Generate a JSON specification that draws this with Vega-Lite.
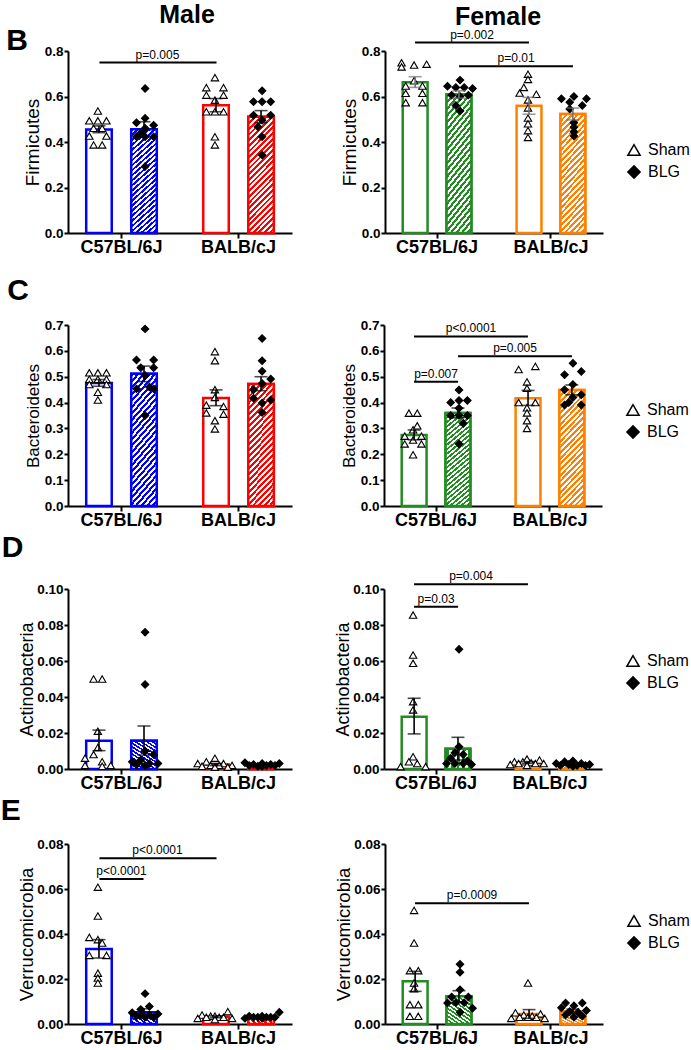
{
"$schema":"https://vega.github.io/schema/vega-lite/v6.json",
"padding":{"left":0,"top":3,"right":0,"bottom":0},
"params":[{"name":"gS","value":{"gradient":"linear","x1":0,"y1":0,"x2":0.258,"y2":1.164,"stops":[
{"offset":0,"color":"rgba(255,255,255,0)"},{"offset":0.02,"color":"rgba(255,255,255,0)"},{"offset":0.02,"color":"#fff"},{"offset":0.04,"color":"#fff"},
{"offset":0.04,"color":"rgba(255,255,255,0)"},{"offset":0.06,"color":"rgba(255,255,255,0)"},{"offset":0.06,"color":"#fff"},{"offset":0.08,"color":"#fff"},
{"offset":0.08,"color":"rgba(255,255,255,0)"},{"offset":0.1,"color":"rgba(255,255,255,0)"},{"offset":0.1,"color":"#fff"},{"offset":0.12,"color":"#fff"},
{"offset":0.12,"color":"rgba(255,255,255,0)"},{"offset":0.14,"color":"rgba(255,255,255,0)"},{"offset":0.14,"color":"#fff"},{"offset":0.16,"color":"#fff"},
{"offset":0.16,"color":"rgba(255,255,255,0)"},{"offset":0.18,"color":"rgba(255,255,255,0)"},{"offset":0.18,"color":"#fff"},{"offset":0.2,"color":"#fff"},
{"offset":0.2,"color":"rgba(255,255,255,0)"},{"offset":0.22,"color":"rgba(255,255,255,0)"},{"offset":0.22,"color":"#fff"},{"offset":0.24,"color":"#fff"},
{"offset":0.24,"color":"rgba(255,255,255,0)"},{"offset":0.26,"color":"rgba(255,255,255,0)"},{"offset":0.26,"color":"#fff"},{"offset":0.28,"color":"#fff"},
{"offset":0.28,"color":"rgba(255,255,255,0)"},{"offset":0.3,"color":"rgba(255,255,255,0)"},{"offset":0.3,"color":"#fff"},{"offset":0.32,"color":"#fff"},
{"offset":0.32,"color":"rgba(255,255,255,0)"},{"offset":0.34,"color":"rgba(255,255,255,0)"},{"offset":0.34,"color":"#fff"},{"offset":0.36,"color":"#fff"},
{"offset":0.36,"color":"rgba(255,255,255,0)"},{"offset":0.38,"color":"rgba(255,255,255,0)"},{"offset":0.38,"color":"#fff"},{"offset":0.4,"color":"#fff"},
{"offset":0.4,"color":"rgba(255,255,255,0)"},{"offset":0.42,"color":"rgba(255,255,255,0)"},{"offset":0.42,"color":"#fff"},{"offset":0.44,"color":"#fff"},
{"offset":0.44,"color":"rgba(255,255,255,0)"},{"offset":0.46,"color":"rgba(255,255,255,0)"},{"offset":0.46,"color":"#fff"},{"offset":0.48,"color":"#fff"},
{"offset":0.48,"color":"rgba(255,255,255,0)"},{"offset":0.5,"color":"rgba(255,255,255,0)"},{"offset":0.5,"color":"#fff"},{"offset":0.52,"color":"#fff"},
{"offset":0.52,"color":"rgba(255,255,255,0)"},{"offset":0.54,"color":"rgba(255,255,255,0)"},{"offset":0.54,"color":"#fff"},{"offset":0.56,"color":"#fff"},
{"offset":0.56,"color":"rgba(255,255,255,0)"},{"offset":0.58,"color":"rgba(255,255,255,0)"},{"offset":0.58,"color":"#fff"},{"offset":0.6,"color":"#fff"},
{"offset":0.6,"color":"rgba(255,255,255,0)"},{"offset":0.62,"color":"rgba(255,255,255,0)"},{"offset":0.62,"color":"#fff"},{"offset":0.64,"color":"#fff"},
{"offset":0.64,"color":"rgba(255,255,255,0)"},{"offset":0.66,"color":"rgba(255,255,255,0)"},{"offset":0.66,"color":"#fff"},{"offset":0.68,"color":"#fff"},
{"offset":0.68,"color":"rgba(255,255,255,0)"},{"offset":0.7,"color":"rgba(255,255,255,0)"},{"offset":0.7,"color":"#fff"},{"offset":0.72,"color":"#fff"},
{"offset":0.72,"color":"rgba(255,255,255,0)"},{"offset":0.74,"color":"rgba(255,255,255,0)"},{"offset":0.74,"color":"#fff"},{"offset":0.76,"color":"#fff"},
{"offset":0.76,"color":"rgba(255,255,255,0)"},{"offset":0.78,"color":"rgba(255,255,255,0)"},{"offset":0.78,"color":"#fff"},{"offset":0.8,"color":"#fff"},
{"offset":0.8,"color":"rgba(255,255,255,0)"},{"offset":0.82,"color":"rgba(255,255,255,0)"},{"offset":0.82,"color":"#fff"},{"offset":0.84,"color":"#fff"},
{"offset":0.84,"color":"rgba(255,255,255,0)"},{"offset":0.86,"color":"rgba(255,255,255,0)"},{"offset":0.86,"color":"#fff"},{"offset":0.88,"color":"#fff"},
{"offset":0.88,"color":"rgba(255,255,255,0)"},{"offset":0.9,"color":"rgba(255,255,255,0)"},{"offset":0.9,"color":"#fff"},{"offset":0.92,"color":"#fff"},
{"offset":0.92,"color":"rgba(255,255,255,0)"},{"offset":0.94,"color":"rgba(255,255,255,0)"},{"offset":0.94,"color":"#fff"},{"offset":0.96,"color":"#fff"},
{"offset":0.96,"color":"rgba(255,255,255,0)"},{"offset":0.98,"color":"rgba(255,255,255,0)"},{"offset":0.98,"color":"#fff"},{"offset":1,"color":"#fff"}]}}],
"config":{
 "font":"Liberation Sans",
 "view":{"stroke":null},
 "axis":{"domainColor":"black","domainWidth":2,"tickColor":"black","tickWidth":2,"labelColor":"black","labelFont":"Liberation Sans","labelFontWeight":"bold","titleFont":"Liberation Sans","titleFontWeight":"normal","titleColor":"black","grid":false,"labelOverlap":false},
 "axisY":{"labelFontSize":13.5,"labelPadding":1,"tickSize":4,"titleFontSize":18},
 "axisX":{"labelFontSize":18,"labelAngle":0,"labelPadding":0,"tickSize":5},
 "title":{"font":"Liberation Sans","fontWeight":"bold","color":"black"},
 "legend":{"labelFont":"Liberation Sans","labelFontSize":16,"labelColor":"black"},
 "text":{"font":"Liberation Sans"}
},
"datasets":{
"bars":[
{"p":"BM","s":"C57BL/6J","t":"Sham","m":0.455,"lo":0.441,"hi":0.471},
{"p":"BM","s":"C57BL/6J","t":"BLG","m":0.456,"lo":0.422,"hi":0.489},
{"p":"BM","s":"BALB/cJ","t":"Sham","m":0.562,"lo":0.533,"hi":0.591},
{"p":"BM","s":"BALB/cJ","t":"BLG","m":0.511,"lo":0.485,"hi":0.538},
{"p":"BF","s":"C57BL/6J","t":"Sham","m":0.663,"lo":0.64,"hi":0.687},
{"p":"BF","s":"C57BL/6J","t":"BLG","m":0.609,"lo":0.593,"hi":0.625},
{"p":"BF","s":"BALB/cJ","t":"Sham","m":0.559,"lo":0.522,"hi":0.596},
{"p":"BF","s":"BALB/cJ","t":"BLG","m":0.523,"lo":0.497,"hi":0.549},
{"p":"CM","s":"C57BL/6J","t":"Sham","m":0.476,"lo":0.463,"hi":0.489},
{"p":"CM","s":"C57BL/6J","t":"BLG","m":0.511,"lo":0.481,"hi":0.541},
{"p":"CM","s":"BALB/cJ","t":"Sham","m":0.418,"lo":0.388,"hi":0.449},
{"p":"CM","s":"BALB/cJ","t":"BLG","m":0.472,"lo":0.446,"hi":0.5},
{"p":"CF","s":"C57BL/6J","t":"Sham","m":0.275,"lo":0.256,"hi":0.294},
{"p":"CF","s":"C57BL/6J","t":"BLG","m":0.36,"lo":0.341,"hi":0.379},
{"p":"CF","s":"BALB/cJ","t":"Sham","m":0.417,"lo":0.389,"hi":0.447},
{"p":"CF","s":"BALB/cJ","t":"BLG","m":0.449,"lo":0.43,"hi":0.468},
{"p":"DM","s":"C57BL/6J","t":"Sham","m":0.0157,"lo":0.0102,"hi":0.0216},
{"p":"DM","s":"C57BL/6J","t":"BLG","m":0.0157,"lo":0.0077,"hi":0.0239},
{"p":"DM","s":"BALB/cJ","t":"Sham","m":0.0025,"lo":0.0019,"hi":0.0031},
{"p":"DM","s":"BALB/cJ","t":"BLG","m":0.0023,"lo":0.0019,"hi":0.0027},
{"p":"DF","s":"C57BL/6J","t":"Sham","m":0.029,"lo":0.0195,"hi":0.0393},
{"p":"DF","s":"C57BL/6J","t":"BLG","m":0.0113,"lo":0.005,"hi":0.0176},
{"p":"DF","s":"BALB/cJ","t":"Sham","m":0.0036,"lo":0.0031,"hi":0.0041},
{"p":"DF","s":"BALB/cJ","t":"BLG","m":0.0027,"lo":0.0023,"hi":0.0031},
{"p":"EM","s":"C57BL/6J","t":"Sham","m":0.0333,"lo":0.0293,"hi":0.0375},
{"p":"EM","s":"C57BL/6J","t":"BLG","m":0.0052,"lo":0.0037,"hi":0.0068},
{"p":"EM","s":"BALB/cJ","t":"Sham","m":0.0032,"lo":0.0028,"hi":0.0036},
{"p":"EM","s":"BALB/cJ","t":"BLG","m":0.0032,"lo":0.0029,"hi":0.0035},
{"p":"EF","s":"C57BL/6J","t":"Sham","m":0.019,"lo":0.0145,"hi":0.0234},
{"p":"EF","s":"C57BL/6J","t":"BLG","m":0.0123,"lo":0.0098,"hi":0.0148},
{"p":"EF","s":"BALB/cJ","t":"Sham","m":0.0045,"lo":0.0025,"hi":0.0064},
{"p":"EF","s":"BALB/cJ","t":"BLG","m":0.0056,"lo":0.0046,"hi":0.0066}
],
"sig":[
{"p":"BM","ty":"SS","s1":"C57BL/6J","s2":"BALB/cJ","y":0.749,"lab":"p=0.005"},
{"p":"BF","ty":"SS","s1":"C57BL/6J","s2":"BALB/cJ","y":0.837,"lab":"p=0.002"},
{"p":"BF","ty":"BB","s1":"C57BL/6J","s2":"BALB/cJ","y":0.733,"lab":"p=0.01"},
{"p":"CF","ty":"SS","s1":"C57BL/6J","s2":"BALB/cJ","y":0.656,"lab":"p<0.0001"},
{"p":"CF","ty":"BB","s1":"C57BL/6J","s2":"BALB/cJ","y":0.579,"lab":"p=0.005"},
{"p":"CF","ty":"W","s1":"C57BL/6J","s2":"C57BL/6J","y":0.481,"lab":"p=0.007"},
{"p":"DF","ty":"SS","s1":"C57BL/6J","s2":"BALB/cJ","y":0.1026,"lab":"p=0.004"},
{"p":"DF","ty":"W","s1":"C57BL/6J","s2":"C57BL/6J","y":0.0902,"lab":"p=0.03"},
{"p":"EM","ty":"SS","s1":"C57BL/6J","s2":"BALB/cJ","y":0.0737,"lab":"p<0.0001"},
{"p":"EM","ty":"W","s1":"C57BL/6J","s2":"C57BL/6J","y":0.0644,"lab":"p<0.0001"},
{"p":"EF","ty":"SS","s1":"C57BL/6J","s2":"BALB/cJ","y":0.0537,"lab":"p=0.0009"}
],
"pts":[
{"p":"BM","s":"C57BL/6J","t":"Sham","k":"S0","v":0.536},{"p":"BM","s":"C57BL/6J","t":"Sham","k":"S-2","v":0.493},{"p":"BM","s":"C57BL/6J","t":"Sham","k":"S0","v":0.493},{"p":"BM","s":"C57BL/6J","t":"Sham","k":"S2","v":0.493},{"p":"BM","s":"C57BL/6J","t":"Sham","k":"S-1","v":0.46},{"p":"BM","s":"C57BL/6J","t":"Sham","k":"S1","v":0.46},{"p":"BM","s":"C57BL/6J","t":"Sham","k":"S-2","v":0.426},{"p":"BM","s":"C57BL/6J","t":"Sham","k":"S2","v":0.426},{"p":"BM","s":"C57BL/6J","t":"Sham","k":"S-1","v":0.387},{"p":"BM","s":"C57BL/6J","t":"Sham","k":"S1","v":0.387},
{"p":"BM","s":"C57BL/6J","t":"BLG","k":"B0","v":0.635},{"p":"BM","s":"C57BL/6J","t":"BLG","k":"B0","v":0.504},{"p":"BM","s":"C57BL/6J","t":"BLG","k":"B-2","v":0.485},{"p":"BM","s":"C57BL/6J","t":"BLG","k":"B2","v":0.474},{"p":"BM","s":"C57BL/6J","t":"BLG","k":"B0","v":0.46},{"p":"BM","s":"C57BL/6J","t":"BLG","k":"B-1","v":0.44},{"p":"BM","s":"C57BL/6J","t":"BLG","k":"B-2","v":0.423},{"p":"BM","s":"C57BL/6J","t":"BLG","k":"B0","v":0.423},{"p":"BM","s":"C57BL/6J","t":"BLG","k":"B2","v":0.423},{"p":"BM","s":"C57BL/6J","t":"BLG","k":"B0","v":0.292},
{"p":"BM","s":"BALB/cJ","t":"Sham","k":"S0","v":0.683},{"p":"BM","s":"BALB/cJ","t":"Sham","k":"S-2","v":0.639},{"p":"BM","s":"BALB/cJ","t":"Sham","k":"S2","v":0.639},{"p":"BM","s":"BALB/cJ","t":"Sham","k":"S-2","v":0.606},{"p":"BM","s":"BALB/cJ","t":"Sham","k":"S2","v":0.606},{"p":"BM","s":"BALB/cJ","t":"Sham","k":"S0","v":0.584},{"p":"BM","s":"BALB/cJ","t":"Sham","k":"S-2","v":0.533},{"p":"BM","s":"BALB/cJ","t":"Sham","k":"S0","v":0.533},{"p":"BM","s":"BALB/cJ","t":"Sham","k":"S2","v":0.533},{"p":"BM","s":"BALB/cJ","t":"Sham","k":"S0","v":0.423},{"p":"BM","s":"BALB/cJ","t":"Sham","k":"S0","v":0.387},
{"p":"BM","s":"BALB/cJ","t":"BLG","k":"B0","v":0.625},{"p":"BM","s":"BALB/cJ","t":"BLG","k":"B-2","v":0.577},{"p":"BM","s":"BALB/cJ","t":"BLG","k":"B0","v":0.577},{"p":"BM","s":"BALB/cJ","t":"BLG","k":"B2","v":0.577},{"p":"BM","s":"BALB/cJ","t":"BLG","k":"B-2","v":0.518},{"p":"BM","s":"BALB/cJ","t":"BLG","k":"B2","v":0.518},{"p":"BM","s":"BALB/cJ","t":"BLG","k":"B0","v":0.496},{"p":"BM","s":"BALB/cJ","t":"BLG","k":"B-1","v":0.467},{"p":"BM","s":"BALB/cJ","t":"BLG","k":"B0","v":0.423},{"p":"BM","s":"BALB/cJ","t":"BLG","k":"B0","v":0.343},
{"p":"BF","s":"C57BL/6J","t":"Sham","k":"S-3","v":0.748},{"p":"BF","s":"C57BL/6J","t":"Sham","k":"S-3","v":0.73},{"p":"BF","s":"C57BL/6J","t":"Sham","k":"S0","v":0.738},{"p":"BF","s":"C57BL/6J","t":"Sham","k":"S3","v":0.742},{"p":"BF","s":"C57BL/6J","t":"Sham","k":"S0","v":0.669},{"p":"BF","s":"C57BL/6J","t":"Sham","k":"S-2","v":0.646},{"p":"BF","s":"C57BL/6J","t":"Sham","k":"S2","v":0.646},{"p":"BF","s":"C57BL/6J","t":"Sham","k":"S-2","v":0.614},{"p":"BF","s":"C57BL/6J","t":"Sham","k":"S2","v":0.614},{"p":"BF","s":"C57BL/6J","t":"Sham","k":"S-2","v":0.573},{"p":"BF","s":"C57BL/6J","t":"Sham","k":"S2","v":0.573},
{"p":"BF","s":"C57BL/6J","t":"BLG","k":"B0","v":0.672},{"p":"BF","s":"C57BL/6J","t":"BLG","k":"B-3","v":0.645},{"p":"BF","s":"C57BL/6J","t":"BLG","k":"B-1","v":0.64},{"p":"BF","s":"C57BL/6J","t":"BLG","k":"B1","v":0.64},{"p":"BF","s":"C57BL/6J","t":"BLG","k":"B3","v":0.635},{"p":"BF","s":"C57BL/6J","t":"BLG","k":"B0","v":0.6},{"p":"BF","s":"C57BL/6J","t":"BLG","k":"B-2","v":0.606},{"p":"BF","s":"C57BL/6J","t":"BLG","k":"B2","v":0.606},{"p":"BF","s":"C57BL/6J","t":"BLG","k":"B-1","v":0.56},{"p":"BF","s":"C57BL/6J","t":"BLG","k":"B0","v":0.536},
{"p":"BF","s":"BALB/cJ","t":"Sham","k":"S0","v":0.698},{"p":"BF","s":"BALB/cJ","t":"Sham","k":"S0","v":0.675},{"p":"BF","s":"BALB/cJ","t":"Sham","k":"S-1","v":0.64},{"p":"BF","s":"BALB/cJ","t":"Sham","k":"S-2","v":0.615},{"p":"BF","s":"BALB/cJ","t":"Sham","k":"S2","v":0.61},{"p":"BF","s":"BALB/cJ","t":"Sham","k":"S0","v":0.585},{"p":"BF","s":"BALB/cJ","t":"Sham","k":"S0","v":0.55},{"p":"BF","s":"BALB/cJ","t":"Sham","k":"S0","v":0.505},{"p":"BF","s":"BALB/cJ","t":"Sham","k":"S0","v":0.48},{"p":"BF","s":"BALB/cJ","t":"Sham","k":"S0","v":0.45},{"p":"BF","s":"BALB/cJ","t":"Sham","k":"S0","v":0.42},
{"p":"BF","s":"BALB/cJ","t":"BLG","k":"B0","v":0.6},{"p":"BF","s":"BALB/cJ","t":"BLG","k":"B-3","v":0.59},{"p":"BF","s":"BALB/cJ","t":"BLG","k":"B3","v":0.59},{"p":"BF","s":"BALB/cJ","t":"BLG","k":"B-1","v":0.575},{"p":"BF","s":"BALB/cJ","t":"BLG","k":"B2","v":0.56},{"p":"BF","s":"BALB/cJ","t":"BLG","k":"B-1","v":0.545},{"p":"BF","s":"BALB/cJ","t":"BLG","k":"B0","v":0.485},{"p":"BF","s":"BALB/cJ","t":"BLG","k":"B0","v":0.465},{"p":"BF","s":"BALB/cJ","t":"BLG","k":"B0","v":0.445},{"p":"BF","s":"BALB/cJ","t":"BLG","k":"B0","v":0.426},
{"p":"CM","s":"C57BL/6J","t":"Sham","k":"S-2","v":0.515},{"p":"CM","s":"C57BL/6J","t":"Sham","k":"S0","v":0.515},{"p":"CM","s":"C57BL/6J","t":"Sham","k":"S2","v":0.515},{"p":"CM","s":"C57BL/6J","t":"Sham","k":"S-2","v":0.49},{"p":"CM","s":"C57BL/6J","t":"Sham","k":"S0","v":0.49},{"p":"CM","s":"C57BL/6J","t":"Sham","k":"S2","v":0.49},{"p":"CM","s":"C57BL/6J","t":"Sham","k":"S-2","v":0.47},{"p":"CM","s":"C57BL/6J","t":"Sham","k":"S2","v":0.47},{"p":"CM","s":"C57BL/6J","t":"Sham","k":"S0","v":0.44},{"p":"CM","s":"C57BL/6J","t":"Sham","k":"S0","v":0.41},
{"p":"CM","s":"C57BL/6J","t":"BLG","k":"B0","v":0.685},{"p":"CM","s":"C57BL/6J","t":"BLG","k":"B-2","v":0.565},{"p":"CM","s":"C57BL/6J","t":"BLG","k":"B2","v":0.565},{"p":"CM","s":"C57BL/6J","t":"BLG","k":"B-1","v":0.535},{"p":"CM","s":"C57BL/6J","t":"BLG","k":"B2","v":0.535},{"p":"CM","s":"C57BL/6J","t":"BLG","k":"B0","v":0.505},{"p":"CM","s":"C57BL/6J","t":"BLG","k":"B1","v":0.46},{"p":"CM","s":"C57BL/6J","t":"BLG","k":"B-2","v":0.453},{"p":"CM","s":"C57BL/6J","t":"BLG","k":"B2","v":0.453},{"p":"CM","s":"C57BL/6J","t":"BLG","k":"B0","v":0.35},
{"p":"CM","s":"BALB/cJ","t":"Sham","k":"S0","v":0.597},{"p":"CM","s":"BALB/cJ","t":"Sham","k":"S0","v":0.562},{"p":"CM","s":"BALB/cJ","t":"Sham","k":"S0","v":0.45},{"p":"CM","s":"BALB/cJ","t":"Sham","k":"S0","v":0.42},{"p":"CM","s":"BALB/cJ","t":"Sham","k":"S-2","v":0.39},{"p":"CM","s":"BALB/cJ","t":"Sham","k":"S2","v":0.385},{"p":"CM","s":"BALB/cJ","t":"Sham","k":"S-2","v":0.36},{"p":"CM","s":"BALB/cJ","t":"Sham","k":"S2","v":0.355},{"p":"CM","s":"BALB/cJ","t":"Sham","k":"S0","v":0.33},{"p":"CM","s":"BALB/cJ","t":"Sham","k":"S0","v":0.298},
{"p":"CM","s":"BALB/cJ","t":"BLG","k":"B0","v":0.648},{"p":"CM","s":"BALB/cJ","t":"BLG","k":"B0","v":0.562},{"p":"CM","s":"BALB/cJ","t":"BLG","k":"B0","v":0.521},{"p":"CM","s":"BALB/cJ","t":"BLG","k":"B2","v":0.491},{"p":"CM","s":"BALB/cJ","t":"BLG","k":"B0","v":0.474},{"p":"CM","s":"BALB/cJ","t":"BLG","k":"B-2","v":0.45},{"p":"CM","s":"BALB/cJ","t":"BLG","k":"B-2","v":0.417},{"p":"CM","s":"BALB/cJ","t":"BLG","k":"B2","v":0.41},{"p":"CM","s":"BALB/cJ","t":"BLG","k":"B0","v":0.398},{"p":"CM","s":"BALB/cJ","t":"BLG","k":"B0","v":0.362},
{"p":"CF","s":"C57BL/6J","t":"Sham","k":"S-1","v":0.359},{"p":"CF","s":"C57BL/6J","t":"Sham","k":"S1","v":0.359},{"p":"CF","s":"C57BL/6J","t":"Sham","k":"S0","v":0.295},{"p":"CF","s":"C57BL/6J","t":"Sham","k":"S-2","v":0.27},{"p":"CF","s":"C57BL/6J","t":"Sham","k":"S2","v":0.27},{"p":"CF","s":"C57BL/6J","t":"Sham","k":"S0","v":0.255},{"p":"CF","s":"C57BL/6J","t":"Sham","k":"S-2","v":0.24},{"p":"CF","s":"C57BL/6J","t":"Sham","k":"S2","v":0.24},{"p":"CF","s":"C57BL/6J","t":"Sham","k":"S0","v":0.198},{"p":"CF","s":"C57BL/6J","t":"Sham","k":"S1","v":0.31},
{"p":"CF","s":"C57BL/6J","t":"BLG","k":"B0","v":0.449},{"p":"CF","s":"C57BL/6J","t":"BLG","k":"B-2","v":0.4},{"p":"CF","s":"C57BL/6J","t":"BLG","k":"B0","v":0.408},{"p":"CF","s":"C57BL/6J","t":"BLG","k":"B2","v":0.408},{"p":"CF","s":"C57BL/6J","t":"BLG","k":"B0","v":0.378},{"p":"CF","s":"C57BL/6J","t":"BLG","k":"B-2","v":0.35},{"p":"CF","s":"C57BL/6J","t":"BLG","k":"B0","v":0.35},{"p":"CF","s":"C57BL/6J","t":"BLG","k":"B2","v":0.35},{"p":"CF","s":"C57BL/6J","t":"BLG","k":"B1","v":0.32},{"p":"CF","s":"C57BL/6J","t":"BLG","k":"B0","v":0.24},
{"p":"CF","s":"BALB/cJ","t":"Sham","k":"S2","v":0.54},{"p":"CF","s":"BALB/cJ","t":"Sham","k":"S-2","v":0.528},{"p":"CF","s":"BALB/cJ","t":"Sham","k":"S0","v":0.48},{"p":"CF","s":"BALB/cJ","t":"Sham","k":"S0","v":0.455},{"p":"CF","s":"BALB/cJ","t":"Sham","k":"S-2","v":0.4},{"p":"CF","s":"BALB/cJ","t":"Sham","k":"S2","v":0.4},{"p":"CF","s":"BALB/cJ","t":"Sham","k":"S0","v":0.38},{"p":"CF","s":"BALB/cJ","t":"Sham","k":"S0","v":0.36},{"p":"CF","s":"BALB/cJ","t":"Sham","k":"S0","v":0.33},{"p":"CF","s":"BALB/cJ","t":"Sham","k":"S0","v":0.3},
{"p":"CF","s":"BALB/cJ","t":"BLG","k":"B0","v":0.552},{"p":"CF","s":"BALB/cJ","t":"BLG","k":"B2","v":0.52},{"p":"CF","s":"BALB/cJ","t":"BLG","k":"B-2","v":0.508},{"p":"CF","s":"BALB/cJ","t":"BLG","k":"B0","v":0.47},{"p":"CF","s":"BALB/cJ","t":"BLG","k":"B-2","v":0.45},{"p":"CF","s":"BALB/cJ","t":"BLG","k":"B2","v":0.43},{"p":"CF","s":"BALB/cJ","t":"BLG","k":"B0","v":0.42},{"p":"CF","s":"BALB/cJ","t":"BLG","k":"B-1","v":0.4},{"p":"CF","s":"BALB/cJ","t":"BLG","k":"B-2","v":0.391},{"p":"CF","s":"BALB/cJ","t":"BLG","k":"B2","v":0.391},
{"p":"DM","s":"C57BL/6J","t":"Sham","k":"S-1","v":0.05},{"p":"DM","s":"C57BL/6J","t":"Sham","k":"S1","v":0.05},{"p":"DM","s":"C57BL/6J","t":"Sham","k":"S0","v":0.021},{"p":"DM","s":"C57BL/6J","t":"Sham","k":"S0","v":0.012},{"p":"DM","s":"C57BL/6J","t":"Sham","k":"S-1","v":0.008},{"p":"DM","s":"C57BL/6J","t":"Sham","k":"S-3","v":0.006},{"p":"DM","s":"C57BL/6J","t":"Sham","k":"S1","v":0.004},{"p":"DM","s":"C57BL/6J","t":"Sham","k":"S-3","v":0.002},{"p":"DM","s":"C57BL/6J","t":"Sham","k":"S1","v":0.0015},{"p":"DM","s":"C57BL/6J","t":"Sham","k":"S3","v":0.002},
{"p":"DM","s":"C57BL/6J","t":"BLG","k":"B0","v":0.076},{"p":"DM","s":"C57BL/6J","t":"BLG","k":"B0","v":0.047},{"p":"DM","s":"C57BL/6J","t":"BLG","k":"B0","v":0.01},{"p":"DM","s":"C57BL/6J","t":"BLG","k":"B2","v":0.008},{"p":"DM","s":"C57BL/6J","t":"BLG","k":"B-1","v":0.005},{"p":"DM","s":"C57BL/6J","t":"BLG","k":"B-3","v":0.004},{"p":"DM","s":"C57BL/6J","t":"BLG","k":"B-2","v":0.0025},{"p":"DM","s":"C57BL/6J","t":"BLG","k":"B1","v":0.003},{"p":"DM","s":"C57BL/6J","t":"BLG","k":"B3","v":0.003},{"p":"DM","s":"C57BL/6J","t":"BLG","k":"B0","v":0.002},
{"p":"DM","s":"BALB/cJ","t":"Sham","k":"S0","v":0.006},{"p":"DM","s":"BALB/cJ","t":"Sham","k":"S-2","v":0.004},{"p":"DM","s":"BALB/cJ","t":"Sham","k":"S-4","v":0.003},{"p":"DM","s":"BALB/cJ","t":"Sham","k":"S2","v":0.003},{"p":"DM","s":"BALB/cJ","t":"Sham","k":"S-1","v":0.002},{"p":"DM","s":"BALB/cJ","t":"Sham","k":"S1","v":0.002},{"p":"DM","s":"BALB/cJ","t":"Sham","k":"S4","v":0.002},{"p":"DM","s":"BALB/cJ","t":"Sham","k":"S-3","v":0.0015},{"p":"DM","s":"BALB/cJ","t":"Sham","k":"S3","v":0.001},{"p":"DM","s":"BALB/cJ","t":"Sham","k":"S0","v":0.001},
{"p":"DM","s":"BALB/cJ","t":"BLG","k":"B-4","v":0.0035},{"p":"DM","s":"BALB/cJ","t":"BLG","k":"B4","v":0.003},{"p":"DM","s":"BALB/cJ","t":"BLG","k":"B0","v":0.003},{"p":"DM","s":"BALB/cJ","t":"BLG","k":"B-2","v":0.0025},{"p":"DM","s":"BALB/cJ","t":"BLG","k":"B2","v":0.0025},{"p":"DM","s":"BALB/cJ","t":"BLG","k":"B-3","v":0.002},{"p":"DM","s":"BALB/cJ","t":"BLG","k":"B1","v":0.002},{"p":"DM","s":"BALB/cJ","t":"BLG","k":"B3","v":0.002},{"p":"DM","s":"BALB/cJ","t":"BLG","k":"B-1","v":0.0015},{"p":"DM","s":"BALB/cJ","t":"BLG","k":"B0","v":0.0015},
{"p":"DF","s":"C57BL/6J","t":"Sham","k":"S0","v":0.0855},{"p":"DF","s":"C57BL/6J","t":"Sham","k":"S0","v":0.0633},{"p":"DF","s":"C57BL/6J","t":"Sham","k":"S0","v":0.0587},{"p":"DF","s":"C57BL/6J","t":"Sham","k":"S0","v":0.0374},{"p":"DF","s":"C57BL/6J","t":"Sham","k":"S0","v":0.0328},{"p":"DF","s":"C57BL/6J","t":"Sham","k":"S0","v":0.0068},{"p":"DF","s":"C57BL/6J","t":"Sham","k":"S-1","v":0.004},{"p":"DF","s":"C57BL/6J","t":"Sham","k":"S1","v":0.003},{"p":"DF","s":"C57BL/6J","t":"Sham","k":"S-3","v":0.0013},{"p":"DF","s":"C57BL/6J","t":"Sham","k":"S3","v":0.0013},
{"p":"DF","s":"C57BL/6J","t":"BLG","k":"B0","v":0.0665},{"p":"DF","s":"C57BL/6J","t":"BLG","k":"B0","v":0.0124},{"p":"DF","s":"C57BL/6J","t":"BLG","k":"B-1","v":0.009},{"p":"DF","s":"C57BL/6J","t":"BLG","k":"B1","v":0.008},{"p":"DF","s":"C57BL/6J","t":"BLG","k":"B-2","v":0.006},{"p":"DF","s":"C57BL/6J","t":"BLG","k":"B2","v":0.0045},{"p":"DF","s":"C57BL/6J","t":"BLG","k":"B-3","v":0.003},{"p":"DF","s":"C57BL/6J","t":"BLG","k":"B-1","v":0.003},{"p":"DF","s":"C57BL/6J","t":"BLG","k":"B1","v":0.003},{"p":"DF","s":"C57BL/6J","t":"BLG","k":"B3","v":0.0025},
{"p":"DF","s":"BALB/cJ","t":"Sham","k":"S0","v":0.0055},{"p":"DF","s":"BALB/cJ","t":"Sham","k":"S3","v":0.005},{"p":"DF","s":"BALB/cJ","t":"Sham","k":"S-3","v":0.004},{"p":"DF","s":"BALB/cJ","t":"Sham","k":"S-1","v":0.004},{"p":"DF","s":"BALB/cJ","t":"Sham","k":"S1","v":0.0035},{"p":"DF","s":"BALB/cJ","t":"Sham","k":"S-2","v":0.003},{"p":"DF","s":"BALB/cJ","t":"Sham","k":"S2","v":0.003},{"p":"DF","s":"BALB/cJ","t":"Sham","k":"S4","v":0.003},{"p":"DF","s":"BALB/cJ","t":"Sham","k":"S-4","v":0.0025},{"p":"DF","s":"BALB/cJ","t":"Sham","k":"S0","v":0.002},
{"p":"DF","s":"BALB/cJ","t":"BLG","k":"B0","v":0.0045},{"p":"DF","s":"BALB/cJ","t":"BLG","k":"B-2","v":0.004},{"p":"DF","s":"BALB/cJ","t":"BLG","k":"B2","v":0.003},{"p":"DF","s":"BALB/cJ","t":"BLG","k":"B-4","v":0.003},{"p":"DF","s":"BALB/cJ","t":"BLG","k":"B4","v":0.0025},{"p":"DF","s":"BALB/cJ","t":"BLG","k":"B-1","v":0.0025},{"p":"DF","s":"BALB/cJ","t":"BLG","k":"B1","v":0.002},{"p":"DF","s":"BALB/cJ","t":"BLG","k":"B3","v":0.002},{"p":"DF","s":"BALB/cJ","t":"BLG","k":"B-3","v":0.002},{"p":"DF","s":"BALB/cJ","t":"BLG","k":"B0","v":0.0015},
{"p":"EM","s":"C57BL/6J","t":"Sham","k":"S0","v":0.0608},{"p":"EM","s":"C57BL/6J","t":"Sham","k":"S0","v":0.048},{"p":"EM","s":"C57BL/6J","t":"Sham","k":"S-2","v":0.0385},{"p":"EM","s":"C57BL/6J","t":"Sham","k":"S0","v":0.0375},{"p":"EM","s":"C57BL/6J","t":"Sham","k":"S1","v":0.036},{"p":"EM","s":"C57BL/6J","t":"Sham","k":"S-2","v":0.0305},{"p":"EM","s":"C57BL/6J","t":"Sham","k":"S2","v":0.0305},{"p":"EM","s":"C57BL/6J","t":"Sham","k":"S0","v":0.0226},{"p":"EM","s":"C57BL/6J","t":"Sham","k":"S0","v":0.0204},{"p":"EM","s":"C57BL/6J","t":"Sham","k":"S0","v":0.0182},
{"p":"EM","s":"C57BL/6J","t":"BLG","k":"B0","v":0.0135},{"p":"EM","s":"C57BL/6J","t":"BLG","k":"B1","v":0.0078},{"p":"EM","s":"C57BL/6J","t":"BLG","k":"B-1","v":0.0065},{"p":"EM","s":"C57BL/6J","t":"BLG","k":"B-3","v":0.005},{"p":"EM","s":"C57BL/6J","t":"BLG","k":"B3","v":0.0045},{"p":"EM","s":"C57BL/6J","t":"BLG","k":"B-1","v":0.004},{"p":"EM","s":"C57BL/6J","t":"BLG","k":"B1","v":0.004},{"p":"EM","s":"C57BL/6J","t":"BLG","k":"B-2","v":0.0035},{"p":"EM","s":"C57BL/6J","t":"BLG","k":"B2","v":0.003},{"p":"EM","s":"C57BL/6J","t":"BLG","k":"B0","v":0.003},
{"p":"EM","s":"BALB/cJ","t":"Sham","k":"S3","v":0.0055},{"p":"EM","s":"BALB/cJ","t":"Sham","k":"S-3","v":0.004},{"p":"EM","s":"BALB/cJ","t":"Sham","k":"S0","v":0.0035},{"p":"EM","s":"BALB/cJ","t":"Sham","k":"S-1","v":0.0035},{"p":"EM","s":"BALB/cJ","t":"Sham","k":"S1","v":0.003},{"p":"EM","s":"BALB/cJ","t":"Sham","k":"S2","v":0.003},{"p":"EM","s":"BALB/cJ","t":"Sham","k":"S-2","v":0.003},{"p":"EM","s":"BALB/cJ","t":"Sham","k":"S4","v":0.0025},{"p":"EM","s":"BALB/cJ","t":"Sham","k":"S-4","v":0.0025},{"p":"EM","s":"BALB/cJ","t":"Sham","k":"S0","v":0.002},
{"p":"EM","s":"BALB/cJ","t":"BLG","k":"B4","v":0.0052},{"p":"EM","s":"BALB/cJ","t":"BLG","k":"B-3","v":0.0035},{"p":"EM","s":"BALB/cJ","t":"BLG","k":"B0","v":0.0035},{"p":"EM","s":"BALB/cJ","t":"BLG","k":"B2","v":0.003},{"p":"EM","s":"BALB/cJ","t":"BLG","k":"B-1","v":0.003},{"p":"EM","s":"BALB/cJ","t":"BLG","k":"B1","v":0.003},{"p":"EM","s":"BALB/cJ","t":"BLG","k":"B3","v":0.003},{"p":"EM","s":"BALB/cJ","t":"BLG","k":"B-2","v":0.003},{"p":"EM","s":"BALB/cJ","t":"BLG","k":"B-4","v":0.0025},{"p":"EM","s":"BALB/cJ","t":"BLG","k":"B0","v":0.0025},
{"p":"EF","s":"C57BL/6J","t":"Sham","k":"S0","v":0.0505},{"p":"EF","s":"C57BL/6J","t":"Sham","k":"S0","v":0.036},{"p":"EF","s":"C57BL/6J","t":"Sham","k":"S-1","v":0.0237},{"p":"EF","s":"C57BL/6J","t":"Sham","k":"S1","v":0.0237},{"p":"EF","s":"C57BL/6J","t":"Sham","k":"S0","v":0.0182},{"p":"EF","s":"C57BL/6J","t":"Sham","k":"S0","v":0.0157},{"p":"EF","s":"C57BL/6J","t":"Sham","k":"S-1","v":0.0086},{"p":"EF","s":"C57BL/6J","t":"Sham","k":"S1","v":0.0086},{"p":"EF","s":"C57BL/6J","t":"Sham","k":"S-1","v":0.0034},{"p":"EF","s":"C57BL/6J","t":"Sham","k":"S1","v":0.0034},
{"p":"EF","s":"C57BL/6J","t":"BLG","k":"B0","v":0.0266},{"p":"EF","s":"C57BL/6J","t":"BLG","k":"B0","v":0.023},{"p":"EF","s":"C57BL/6J","t":"BLG","k":"B0","v":0.0152},{"p":"EF","s":"C57BL/6J","t":"BLG","k":"B-2","v":0.012},{"p":"EF","s":"C57BL/6J","t":"BLG","k":"B2","v":0.012},{"p":"EF","s":"C57BL/6J","t":"BLG","k":"B-1","v":0.0095},{"p":"EF","s":"C57BL/6J","t":"BLG","k":"B1","v":0.0095},{"p":"EF","s":"C57BL/6J","t":"BLG","k":"B-3","v":0.0093},{"p":"EF","s":"C57BL/6J","t":"BLG","k":"B3","v":0.007},{"p":"EF","s":"C57BL/6J","t":"BLG","k":"B0","v":0.0052},
{"p":"EF","s":"BALB/cJ","t":"Sham","k":"S0","v":0.0182},{"p":"EF","s":"BALB/cJ","t":"Sham","k":"S-3","v":0.005},{"p":"EF","s":"BALB/cJ","t":"Sham","k":"S3","v":0.0045},{"p":"EF","s":"BALB/cJ","t":"Sham","k":"S-1","v":0.004},{"p":"EF","s":"BALB/cJ","t":"Sham","k":"S1","v":0.0035},{"p":"EF","s":"BALB/cJ","t":"Sham","k":"S-2","v":0.003},{"p":"EF","s":"BALB/cJ","t":"Sham","k":"S2","v":0.003},{"p":"EF","s":"BALB/cJ","t":"Sham","k":"S0","v":0.003},{"p":"EF","s":"BALB/cJ","t":"Sham","k":"S-4","v":0.0025},{"p":"EF","s":"BALB/cJ","t":"Sham","k":"S4","v":0.0025},
{"p":"EF","s":"BALB/cJ","t":"BLG","k":"B-2","v":0.0093},{"p":"EF","s":"BALB/cJ","t":"BLG","k":"B2","v":0.0093},{"p":"EF","s":"BALB/cJ","t":"BLG","k":"B0","v":0.0081},{"p":"EF","s":"BALB/cJ","t":"BLG","k":"B-3","v":0.0072},{"p":"EF","s":"BALB/cJ","t":"BLG","k":"B3","v":0.006},{"p":"EF","s":"BALB/cJ","t":"BLG","k":"B-1","v":0.0056},{"p":"EF","s":"BALB/cJ","t":"BLG","k":"B1","v":0.0052},{"p":"EF","s":"BALB/cJ","t":"BLG","k":"B-2","v":0.004},{"p":"EF","s":"BALB/cJ","t":"BLG","k":"B2","v":0.0035},{"p":"EF","s":"BALB/cJ","t":"BLG","k":"B0","v":0.003}
]
},
"spacing":4,
"resolve":{"legend":{"shape":"independent","fill":"independent"},"scale":{"shape":"independent","fill":"independent"}},
"vconcat":[
{"title":{"text":"B","anchor":"start","fontSize":30,"offset":-53,"dx":-17},
 "spacing":48,
 "resolve":{"legend":{"shape":"independent","fill":"independent"},"scale":{"shape":"independent","fill":"independent"}},
 "hconcat":[
 {"width":224,"height":182,
  "title":{"text":"Male","fontSize":25,"frame":"group","offset":16,"dx":7},
  "resolve":{"scale":{"xOffset":"independent"}},
  "layer":[
   {"data":{"name":"bars"},"transform":[{"filter":"datum.p=='BM'"}],"mark":{"type":"bar","strokeWidth":2.5},
    "encoding":{"x":{"field":"s","type":"nominal","title":" ","axis":{"titleFontSize":15,"titlePadding":1},"scale":{"domain":["C57BL/6J","BALB/cJ"],"paddingInner":0.23,"paddingOuter":0.072}},
     "xOffset":{"field":"t","type":"nominal","scale":{"domain":["Sham","BLG"],"paddingInner":0.433,"paddingOuter":0.217}},
     "y":{"field":"m","type":"quantitative","title":"Firmicutes","scale":{"domain":[0,0.8]},"axis":{"values":[0,0.2,0.4,0.6,0.8],"format":".1f","titlePadding":2,"titleFontSize":19}},
     "fill":{"condition":[{"test":"datum.t=='Sham'","value":"white"},{"test":"datum.s=='C57BL/6J'","value":"#0000ff"}],"value":"#ff0000"},
     "stroke":{"condition":{"test":"datum.s=='C57BL/6J'","value":"#0000ff"},"value":"#ff0000"}}},
   {"data":{"name":"bars"},"transform":[{"filter":"datum.p=='BM' && datum.t=='BLG'"}],"mark":{"type":"bar","strokeWidth":2.5,"fill":{"expr":"gS"}},
    "encoding":{"x":{"field":"s","type":"nominal","title":" ","axis":{"titleFontSize":15,"titlePadding":1},"scale":{"domain":["C57BL/6J","BALB/cJ"],"paddingInner":0.23,"paddingOuter":0.072}},
     "xOffset":{"field":"t","type":"nominal","scale":{"domain":["Sham","BLG"],"paddingInner":0.433,"paddingOuter":0.217}},
     "y":{"field":"m","type":"quantitative","title":"Firmicutes","scale":{"domain":[0,0.8]},"axis":{"values":[0,0.2,0.4,0.6,0.8],"format":".1f","titlePadding":2,"titleFontSize":19}},
     "stroke":{"condition":{"test":"datum.s=='C57BL/6J'","value":"#0000ff"},"value":"#ff0000"}}},
   {"data":{"name":"pts"},"transform":[{"filter":"datum.p=='BM'"}],"mark":{"type":"point","filled":true,"stroke":"black","strokeWidth":1.1,"size":55,"opacity":1},
    "encoding":{"x":{"field":"s","type":"nominal","title":" ","axis":{"titleFontSize":15,"titlePadding":1},"scale":{"domain":["C57BL/6J","BALB/cJ"],"paddingInner":0.23,"paddingOuter":0.072}},
     "xOffset":{"field":"k","type":"nominal","scale":{"domain":["S-5","S-4","S-3","S-2","S-1","S0","S1","S2","S3","S4","S5","B-5","B-4","B-3","B-2","B-1","B0","B1","B2","B3","B4","B5"],"paddingInner":0,"paddingOuter":0}},
     "y":{"field":"v","type":"quantitative","title":"Firmicutes","scale":{"domain":[0,0.8]},"axis":{"values":[0,0.2,0.4,0.6,0.8],"format":".1f","titlePadding":2,"titleFontSize":19}},
     "shape":{"field":"t","type":"nominal","scale":{"domain":["Sham","BLG"],"range":["triangle-up","diamond"]},"legend":null},
     "fill":{"field":"t","type":"nominal","scale":{"domain":["Sham","BLG"],"range":["white","black"]},"legend":null}}},
   {"data":{"name":"bars"},"transform":[{"filter":"datum.p=='BM'"}],"mark":{"type":"rule","color":"black","strokeWidth":1.6},
    "encoding":{"x":{"field":"s","type":"nominal","title":" ","axis":{"titleFontSize":15,"titlePadding":1},"scale":{"domain":["C57BL/6J","BALB/cJ"],"paddingInner":0.23,"paddingOuter":0.072}},
     "xOffset":{"field":"t","type":"nominal","scale":{"domain":["Sham","BLG"],"paddingInner":0.433,"paddingOuter":0.217}},
     "y":{"field":"lo","type":"quantitative","title":"Firmicutes","scale":{"domain":[0,0.8]},"axis":{"values":[0,0.2,0.4,0.6,0.8],"format":".1f","titlePadding":2,"titleFontSize":19}},"y2":{"field":"hi"}}},
   {"data":{"name":"bars"},"transform":[{"filter":"datum.p=='BM'"},{"fold":["lo","hi"],"as":["key","val"]}],"mark":{"type":"tick","color":"black","thickness":1.6,"size":13,"orient":"horizontal"},
    "encoding":{"x":{"field":"s","type":"nominal","title":" ","axis":{"titleFontSize":15,"titlePadding":1},"scale":{"domain":["C57BL/6J","BALB/cJ"],"paddingInner":0.23,"paddingOuter":0.072}},
     "xOffset":{"field":"t","type":"nominal","scale":{"domain":["Sham","BLG"],"paddingInner":0.433,"paddingOuter":0.217}},
     "y":{"field":"val","type":"quantitative","title":"Firmicutes","scale":{"domain":[0,0.8]},"axis":{"values":[0,0.2,0.4,0.6,0.8],"format":".1f","titlePadding":2,"titleFontSize":19}}}},
   {"data":{"name":"sig"},"transform":[{"filter":"datum.p=='BM'"}],"mark":{"type":"rule","color":"black","strokeWidth":2,"xOffset":{"expr":"datum.ty=='BB' ? 22 : -22"},"x2Offset":{"expr":"datum.ty=='SS' ? -22 : 22"}},
    "encoding":{"x":{"field":"s1","type":"nominal","title":" ","axis":{"titleFontSize":15,"titlePadding":1},"bandPosition":0.5,"scale":{"domain":["C57BL/6J","BALB/cJ"],"paddingInner":0.23,"paddingOuter":0.072}},"x2":{"field":"s2","bandPosition":0.5},
     "y":{"field":"y","type":"quantitative","title":"Firmicutes","scale":{"domain":[0,0.8]},"axis":{"values":[0,0.2,0.4,0.6,0.8],"format":".1f","titlePadding":2,"titleFontSize":19}}}},
   {"data":{"name":"sig"},"transform":[{"filter":"datum.p=='BM'"}],"mark":{"type":"text","fontSize":12,"color":"black","baseline":"alphabetic","dy":-4,"dx":{"expr":"datum.ty=='SS' ? 36 : datum.ty=='BB' ? 80 : 0"}},
    "encoding":{"x":{"field":"s1","type":"nominal","title":" ","axis":{"titleFontSize":15,"titlePadding":1},"bandPosition":0.5,"scale":{"domain":["C57BL/6J","BALB/cJ"],"paddingInner":0.23,"paddingOuter":0.072}},
     "y":{"field":"y","type":"quantitative","title":"Firmicutes","scale":{"domain":[0,0.8]},"axis":{"values":[0,0.2,0.4,0.6,0.8],"format":".1f","titlePadding":2,"titleFontSize":19}},"text":{"field":"lab"}}}
  ]},
 {"width":218,"height":182,
  "title":{"text":"Female","fontSize":25,"frame":"group","offset":-1,"dx":4},
  "resolve":{"scale":{"xOffset":"independent"}},
  "layer":[
   {"data":{"name":"bars"},"transform":[{"filter":"datum.p=='BF'"}],"mark":{"type":"bar","strokeWidth":2.5},
    "encoding":{"x":{"field":"s","type":"nominal","title":" ","axis":{"titleFontSize":15,"titlePadding":1},"scale":{"domain":["C57BL/6J","BALB/cJ"],"paddingInner":0.23,"paddingOuter":0.072}},
     "xOffset":{"field":"t","type":"nominal","scale":{"domain":["Sham","BLG"],"paddingInner":0.433,"paddingOuter":0.217}},
     "y":{"field":"m","type":"quantitative","title":"Firmicutes","scale":{"domain":[0,0.8]},"axis":{"values":[0,0.2,0.4,0.6,0.8],"format":".1f","titlePadding":2,"titleFontSize":19}},
     "fill":{"condition":[{"test":"datum.t=='Sham'","value":"white"},{"test":"datum.s=='C57BL/6J'","value":"#228b22"}],"value":"#ff8000"},
     "stroke":{"condition":{"test":"datum.s=='C57BL/6J'","value":"#228b22"},"value":"#ff8000"}}},
   {"data":{"name":"bars"},"transform":[{"filter":"datum.p=='BF' && datum.t=='BLG'"}],"mark":{"type":"bar","strokeWidth":2.5,"fill":{"expr":"gS"}},
    "encoding":{"x":{"field":"s","type":"nominal","title":" ","axis":{"titleFontSize":15,"titlePadding":1},"scale":{"domain":["C57BL/6J","BALB/cJ"],"paddingInner":0.23,"paddingOuter":0.072}},
     "xOffset":{"field":"t","type":"nominal","scale":{"domain":["Sham","BLG"],"paddingInner":0.433,"paddingOuter":0.217}},
     "y":{"field":"m","type":"quantitative","title":"Firmicutes","scale":{"domain":[0,0.8]},"axis":{"values":[0,0.2,0.4,0.6,0.8],"format":".1f","titlePadding":2,"titleFontSize":19}},
     "stroke":{"condition":{"test":"datum.s=='C57BL/6J'","value":"#228b22"},"value":"#ff8000"}}},
   {"data":{"name":"pts"},"transform":[{"filter":"datum.p=='BF'"}],"mark":{"type":"point","filled":true,"stroke":"black","strokeWidth":1.1,"size":55,"opacity":1},
    "encoding":{"x":{"field":"s","type":"nominal","title":" ","axis":{"titleFontSize":15,"titlePadding":1},"scale":{"domain":["C57BL/6J","BALB/cJ"],"paddingInner":0.23,"paddingOuter":0.072}},
     "xOffset":{"field":"k","type":"nominal","scale":{"domain":["S-5","S-4","S-3","S-2","S-1","S0","S1","S2","S3","S4","S5","B-5","B-4","B-3","B-2","B-1","B0","B1","B2","B3","B4","B5"],"paddingInner":0,"paddingOuter":0}},
     "y":{"field":"v","type":"quantitative","title":"Firmicutes","scale":{"domain":[0,0.8]},"axis":{"values":[0,0.2,0.4,0.6,0.8],"format":".1f","titlePadding":2,"titleFontSize":19}},
     "shape":{"field":"t","type":"nominal","scale":{"domain":["Sham","BLG"],"range":["triangle-up","diamond"]},"legend":{"title":null,"orient":"none","legendX":241,"legendY":91,"symbolSize":150,"labelFontSize":16,"labelOffset":6,"rowPadding":3,"padding":0,"encode":{"symbols":{"update":{"stroke":{"value":"black"},"strokeWidth":{"value":1.2}}}}}},
     "fill":{"field":"t","type":"nominal","scale":{"domain":["Sham","BLG"],"range":["white","black"]},"legend":{"title":null,"orient":"none","legendX":241,"legendY":91,"symbolSize":150,"labelFontSize":16,"labelOffset":6,"rowPadding":3,"padding":0,"encode":{"symbols":{"update":{"stroke":{"value":"black"},"strokeWidth":{"value":1.2}}}}}}}},
   {"data":{"name":"bars"},"transform":[{"filter":"datum.p=='BF'"}],"mark":{"type":"rule","color":"#707070","strokeWidth":1.6},
    "encoding":{"x":{"field":"s","type":"nominal","title":" ","axis":{"titleFontSize":15,"titlePadding":1},"scale":{"domain":["C57BL/6J","BALB/cJ"],"paddingInner":0.23,"paddingOuter":0.072}},
     "xOffset":{"field":"t","type":"nominal","scale":{"domain":["Sham","BLG"],"paddingInner":0.433,"paddingOuter":0.217}},
     "y":{"field":"lo","type":"quantitative","title":"Firmicutes","scale":{"domain":[0,0.8]},"axis":{"values":[0,0.2,0.4,0.6,0.8],"format":".1f","titlePadding":2,"titleFontSize":19}},"y2":{"field":"hi"}}},
   {"data":{"name":"bars"},"transform":[{"filter":"datum.p=='BF'"},{"fold":["lo","hi"],"as":["key","val"]}],"mark":{"type":"tick","color":"#707070","thickness":1.6,"size":13,"orient":"horizontal"},
    "encoding":{"x":{"field":"s","type":"nominal","title":" ","axis":{"titleFontSize":15,"titlePadding":1},"scale":{"domain":["C57BL/6J","BALB/cJ"],"paddingInner":0.23,"paddingOuter":0.072}},
     "xOffset":{"field":"t","type":"nominal","scale":{"domain":["Sham","BLG"],"paddingInner":0.433,"paddingOuter":0.217}},
     "y":{"field":"val","type":"quantitative","title":"Firmicutes","scale":{"domain":[0,0.8]},"axis":{"values":[0,0.2,0.4,0.6,0.8],"format":".1f","titlePadding":2,"titleFontSize":19}}}},
   {"data":{"name":"sig"},"transform":[{"filter":"datum.p=='BF'"}],"mark":{"type":"rule","color":"black","strokeWidth":2,"xOffset":{"expr":"datum.ty=='BB' ? 22 : -22"},"x2Offset":{"expr":"datum.ty=='SS' ? -22 : 22"}},
    "encoding":{"x":{"field":"s1","type":"nominal","title":" ","axis":{"titleFontSize":15,"titlePadding":1},"bandPosition":0.5,"scale":{"domain":["C57BL/6J","BALB/cJ"],"paddingInner":0.23,"paddingOuter":0.072}},"x2":{"field":"s2","bandPosition":0.5},
     "y":{"field":"y","type":"quantitative","title":"Firmicutes","scale":{"domain":[0,0.8]},"axis":{"values":[0,0.2,0.4,0.6,0.8],"format":".1f","titlePadding":2,"titleFontSize":19}}}},
   {"data":{"name":"sig"},"transform":[{"filter":"datum.p=='BF'"}],"mark":{"type":"text","fontSize":12,"color":"black","baseline":"alphabetic","dy":-4,"dx":{"expr":"datum.ty=='SS' ? 35 : datum.ty=='BB' ? 79 : 0"}},
    "encoding":{"x":{"field":"s1","type":"nominal","title":" ","axis":{"titleFontSize":15,"titlePadding":1},"bandPosition":0.5,"scale":{"domain":["C57BL/6J","BALB/cJ"],"paddingInner":0.23,"paddingOuter":0.072}},
     "y":{"field":"y","type":"quantitative","title":"Firmicutes","scale":{"domain":[0,0.8]},"axis":{"values":[0,0.2,0.4,0.6,0.8],"format":".1f","titlePadding":2,"titleFontSize":19}},"text":{"field":"lab"}}}
  ]}
 ]},
{"title":{"text":"C","anchor":"start","fontSize":30,"offset":12,"dx":-17},
 "spacing":48,
 "resolve":{"legend":{"shape":"independent","fill":"independent"},"scale":{"shape":"independent","fill":"independent"}},
 "hconcat":[
 {"width":224,"height":181,
  "resolve":{"scale":{"xOffset":"independent"}},
  "layer":[
   {"data":{"name":"bars"},"transform":[{"filter":"datum.p=='CM'"}],"mark":{"type":"bar","strokeWidth":2.5},
    "encoding":{"x":{"field":"s","type":"nominal","title":null,"scale":{"domain":["C57BL/6J","BALB/cJ"],"paddingInner":0.23,"paddingOuter":0.072}},
     "xOffset":{"field":"t","type":"nominal","scale":{"domain":["Sham","BLG"],"paddingInner":0.433,"paddingOuter":0.217}},
     "y":{"field":"m","type":"quantitative","title":"Bacteroidetes","scale":{"domain":[0,0.7]},"axis":{"values":[0,0.1,0.2,0.3,0.4,0.5,0.6,0.7],"format":".1f","titlePadding":2,"titleFontSize":17}},
     "fill":{"condition":[{"test":"datum.t=='Sham'","value":"white"},{"test":"datum.s=='C57BL/6J'","value":"#0000ff"}],"value":"#ff0000"},
     "stroke":{"condition":{"test":"datum.s=='C57BL/6J'","value":"#0000ff"},"value":"#ff0000"}}},
   {"data":{"name":"bars"},"transform":[{"filter":"datum.p=='CM' && datum.t=='BLG'"}],"mark":{"type":"bar","strokeWidth":2.5,"fill":{"expr":"gS"}},
    "encoding":{"x":{"field":"s","type":"nominal","title":null,"scale":{"domain":["C57BL/6J","BALB/cJ"],"paddingInner":0.23,"paddingOuter":0.072}},
     "xOffset":{"field":"t","type":"nominal","scale":{"domain":["Sham","BLG"],"paddingInner":0.433,"paddingOuter":0.217}},
     "y":{"field":"m","type":"quantitative","title":"Bacteroidetes","scale":{"domain":[0,0.7]},"axis":{"values":[0,0.1,0.2,0.3,0.4,0.5,0.6,0.7],"format":".1f","titlePadding":2,"titleFontSize":17}},
     "stroke":{"condition":{"test":"datum.s=='C57BL/6J'","value":"#0000ff"},"value":"#ff0000"}}},
   {"data":{"name":"pts"},"transform":[{"filter":"datum.p=='CM'"}],"mark":{"type":"point","filled":true,"stroke":"black","strokeWidth":1.1,"size":55,"opacity":1},
    "encoding":{"x":{"field":"s","type":"nominal","title":null,"scale":{"domain":["C57BL/6J","BALB/cJ"],"paddingInner":0.23,"paddingOuter":0.072}},
     "xOffset":{"field":"k","type":"nominal","scale":{"domain":["S-5","S-4","S-3","S-2","S-1","S0","S1","S2","S3","S4","S5","B-5","B-4","B-3","B-2","B-1","B0","B1","B2","B3","B4","B5"],"paddingInner":0,"paddingOuter":0}},
     "y":{"field":"v","type":"quantitative","title":"Bacteroidetes","scale":{"domain":[0,0.7]},"axis":{"values":[0,0.1,0.2,0.3,0.4,0.5,0.6,0.7],"format":".1f","titlePadding":2,"titleFontSize":17}},
     "shape":{"field":"t","type":"nominal","scale":{"domain":["Sham","BLG"],"range":["triangle-up","diamond"]},"legend":null},
     "fill":{"field":"t","type":"nominal","scale":{"domain":["Sham","BLG"],"range":["white","black"]},"legend":null}}},
   {"data":{"name":"bars"},"transform":[{"filter":"datum.p=='CM'"}],"mark":{"type":"rule","color":"black","strokeWidth":1.6},
    "encoding":{"x":{"field":"s","type":"nominal","title":null,"scale":{"domain":["C57BL/6J","BALB/cJ"],"paddingInner":0.23,"paddingOuter":0.072}},
     "xOffset":{"field":"t","type":"nominal","scale":{"domain":["Sham","BLG"],"paddingInner":0.433,"paddingOuter":0.217}},
     "y":{"field":"lo","type":"quantitative","title":"Bacteroidetes","scale":{"domain":[0,0.7]},"axis":{"values":[0,0.1,0.2,0.3,0.4,0.5,0.6,0.7],"format":".1f","titlePadding":2,"titleFontSize":17}},"y2":{"field":"hi"}}},
   {"data":{"name":"bars"},"transform":[{"filter":"datum.p=='CM'"},{"fold":["lo","hi"],"as":["key","val"]}],"mark":{"type":"tick","color":"black","thickness":1.6,"size":13,"orient":"horizontal"},
    "encoding":{"x":{"field":"s","type":"nominal","title":null,"scale":{"domain":["C57BL/6J","BALB/cJ"],"paddingInner":0.23,"paddingOuter":0.072}},
     "xOffset":{"field":"t","type":"nominal","scale":{"domain":["Sham","BLG"],"paddingInner":0.433,"paddingOuter":0.217}},
     "y":{"field":"val","type":"quantitative","title":"Bacteroidetes","scale":{"domain":[0,0.7]},"axis":{"values":[0,0.1,0.2,0.3,0.4,0.5,0.6,0.7],"format":".1f","titlePadding":2,"titleFontSize":17}}}}
  ]},
 {"width":218,"height":181,
  "resolve":{"scale":{"xOffset":"independent"}},
  "layer":[
   {"data":{"name":"bars"},"transform":[{"filter":"datum.p=='CF'"}],"mark":{"type":"bar","strokeWidth":2.5},
    "encoding":{"x":{"field":"s","type":"nominal","title":null,"scale":{"domain":["C57BL/6J","BALB/cJ"],"paddingInner":0.23,"paddingOuter":0.072}},
     "xOffset":{"field":"t","type":"nominal","scale":{"domain":["Sham","BLG"],"paddingInner":0.433,"paddingOuter":0.217}},
     "y":{"field":"m","type":"quantitative","title":"Bacteroidetes","scale":{"domain":[0,0.7]},"axis":{"values":[0,0.1,0.2,0.3,0.4,0.5,0.6,0.7],"format":".1f","titlePadding":2,"titleFontSize":17}},
     "fill":{"condition":[{"test":"datum.t=='Sham'","value":"white"},{"test":"datum.s=='C57BL/6J'","value":"#228b22"}],"value":"#ff8000"},
     "stroke":{"condition":{"test":"datum.s=='C57BL/6J'","value":"#228b22"},"value":"#ff8000"}}},
   {"data":{"name":"bars"},"transform":[{"filter":"datum.p=='CF' && datum.t=='BLG'"}],"mark":{"type":"bar","strokeWidth":2.5,"fill":{"expr":"gS"}},
    "encoding":{"x":{"field":"s","type":"nominal","title":null,"scale":{"domain":["C57BL/6J","BALB/cJ"],"paddingInner":0.23,"paddingOuter":0.072}},
     "xOffset":{"field":"t","type":"nominal","scale":{"domain":["Sham","BLG"],"paddingInner":0.433,"paddingOuter":0.217}},
     "y":{"field":"m","type":"quantitative","title":"Bacteroidetes","scale":{"domain":[0,0.7]},"axis":{"values":[0,0.1,0.2,0.3,0.4,0.5,0.6,0.7],"format":".1f","titlePadding":2,"titleFontSize":17}},
     "stroke":{"condition":{"test":"datum.s=='C57BL/6J'","value":"#228b22"},"value":"#ff8000"}}},
   {"data":{"name":"pts"},"transform":[{"filter":"datum.p=='CF'"}],"mark":{"type":"point","filled":true,"stroke":"black","strokeWidth":1.1,"size":55,"opacity":1},
    "encoding":{"x":{"field":"s","type":"nominal","title":null,"scale":{"domain":["C57BL/6J","BALB/cJ"],"paddingInner":0.23,"paddingOuter":0.072}},
     "xOffset":{"field":"k","type":"nominal","scale":{"domain":["S-5","S-4","S-3","S-2","S-1","S0","S1","S2","S3","S4","S5","B-5","B-4","B-3","B-2","B-1","B0","B1","B2","B3","B4","B5"],"paddingInner":0,"paddingOuter":0}},
     "y":{"field":"v","type":"quantitative","title":"Bacteroidetes","scale":{"domain":[0,0.7]},"axis":{"values":[0,0.1,0.2,0.3,0.4,0.5,0.6,0.7],"format":".1f","titlePadding":2,"titleFontSize":17}},
     "shape":{"field":"t","type":"nominal","scale":{"domain":["Sham","BLG"],"range":["triangle-up","diamond"]},"legend":{"title":null,"orient":"none","legendX":241,"legendY":77,"symbolSize":150,"labelFontSize":16,"labelOffset":6,"rowPadding":3,"padding":0,"encode":{"symbols":{"update":{"stroke":{"value":"black"},"strokeWidth":{"value":1.2}}}}}},
     "fill":{"field":"t","type":"nominal","scale":{"domain":["Sham","BLG"],"range":["white","black"]},"legend":{"title":null,"orient":"none","legendX":241,"legendY":77,"symbolSize":150,"labelFontSize":16,"labelOffset":6,"rowPadding":3,"padding":0,"encode":{"symbols":{"update":{"stroke":{"value":"black"},"strokeWidth":{"value":1.2}}}}}}}},
   {"data":{"name":"bars"},"transform":[{"filter":"datum.p=='CF'"}],"mark":{"type":"rule","color":"black","strokeWidth":1.6},
    "encoding":{"x":{"field":"s","type":"nominal","title":null,"scale":{"domain":["C57BL/6J","BALB/cJ"],"paddingInner":0.23,"paddingOuter":0.072}},
     "xOffset":{"field":"t","type":"nominal","scale":{"domain":["Sham","BLG"],"paddingInner":0.433,"paddingOuter":0.217}},
     "y":{"field":"lo","type":"quantitative","title":"Bacteroidetes","scale":{"domain":[0,0.7]},"axis":{"values":[0,0.1,0.2,0.3,0.4,0.5,0.6,0.7],"format":".1f","titlePadding":2,"titleFontSize":17}},"y2":{"field":"hi"}}},
   {"data":{"name":"bars"},"transform":[{"filter":"datum.p=='CF'"},{"fold":["lo","hi"],"as":["key","val"]}],"mark":{"type":"tick","color":"black","thickness":1.6,"size":13,"orient":"horizontal"},
    "encoding":{"x":{"field":"s","type":"nominal","title":null,"scale":{"domain":["C57BL/6J","BALB/cJ"],"paddingInner":0.23,"paddingOuter":0.072}},
     "xOffset":{"field":"t","type":"nominal","scale":{"domain":["Sham","BLG"],"paddingInner":0.433,"paddingOuter":0.217}},
     "y":{"field":"val","type":"quantitative","title":"Bacteroidetes","scale":{"domain":[0,0.7]},"axis":{"values":[0,0.1,0.2,0.3,0.4,0.5,0.6,0.7],"format":".1f","titlePadding":2,"titleFontSize":17}}}},
   {"data":{"name":"sig"},"transform":[{"filter":"datum.p=='CF'"}],"mark":{"type":"rule","color":"black","strokeWidth":2,"xOffset":{"expr":"datum.ty=='BB' ? 22 : -22"},"x2Offset":{"expr":"datum.ty=='SS' ? -22 : 22"}},
    "encoding":{"x":{"field":"s1","type":"nominal","title":null,"bandPosition":0.5,"scale":{"domain":["C57BL/6J","BALB/cJ"],"paddingInner":0.23,"paddingOuter":0.072}},"x2":{"field":"s2","bandPosition":0.5},
     "y":{"field":"y","type":"quantitative","title":"Bacteroidetes","scale":{"domain":[0,0.7]},"axis":{"values":[0,0.1,0.2,0.3,0.4,0.5,0.6,0.7],"format":".1f","titlePadding":2,"titleFontSize":17}}}},
   {"data":{"name":"sig"},"transform":[{"filter":"datum.p=='CF'"}],"mark":{"type":"text","fontSize":12,"color":"black","baseline":"alphabetic","dy":-4,"dx":{"expr":"datum.ty=='SS' ? 35 : datum.ty=='BB' ? 79 : 0"}},
    "encoding":{"x":{"field":"s1","type":"nominal","title":null,"bandPosition":0.5,"scale":{"domain":["C57BL/6J","BALB/cJ"],"paddingInner":0.23,"paddingOuter":0.072}},
     "y":{"field":"y","type":"quantitative","title":"Bacteroidetes","scale":{"domain":[0,0.7]},"axis":{"values":[0,0.1,0.2,0.3,0.4,0.5,0.6,0.7],"format":".1f","titlePadding":2,"titleFontSize":17}},"text":{"field":"lab"}}}
  ]}
 ]},
{"title":{"text":"D","anchor":"start","fontSize":30,"offset":7,"dx":-17},
 "spacing":42,
 "resolve":{"legend":{"shape":"independent","fill":"independent"},"scale":{"shape":"independent","fill":"independent"}},
 "hconcat":[
 {"width":224,"height":180,
  "resolve":{"scale":{"xOffset":"independent"}},
  "layer":[
   {"data":{"name":"bars"},"transform":[{"filter":"datum.p=='DM'"}],"mark":{"type":"bar","strokeWidth":2.5},
    "encoding":{"x":{"field":"s","type":"nominal","title":null,"scale":{"domain":["C57BL/6J","BALB/cJ"],"paddingInner":0.23,"paddingOuter":0.072}},
     "xOffset":{"field":"t","type":"nominal","scale":{"domain":["Sham","BLG"],"paddingInner":0.433,"paddingOuter":0.217}},
     "y":{"field":"m","type":"quantitative","title":"Actinobacteria","scale":{"domain":[0,0.1]},"axis":{"values":[0,0.02,0.04,0.06,0.08,0.1],"format":".2f","titlePadding":0,"titleFontSize":18}},
     "fill":{"condition":[{"test":"datum.t=='Sham'","value":"white"},{"test":"datum.s=='C57BL/6J'","value":"#0000ff"}],"value":"#ff0000"},
     "stroke":{"condition":{"test":"datum.s=='C57BL/6J'","value":"#0000ff"},"value":"#ff0000"}}},
   {"data":{"name":"bars"},"transform":[{"filter":"datum.p=='DM' && datum.t=='BLG'"}],"mark":{"type":"bar","strokeWidth":2.5,"fill":{"expr":"gS"}},
    "encoding":{"x":{"field":"s","type":"nominal","title":null,"scale":{"domain":["C57BL/6J","BALB/cJ"],"paddingInner":0.23,"paddingOuter":0.072}},
     "xOffset":{"field":"t","type":"nominal","scale":{"domain":["Sham","BLG"],"paddingInner":0.433,"paddingOuter":0.217}},
     "y":{"field":"m","type":"quantitative","title":"Actinobacteria","scale":{"domain":[0,0.1]},"axis":{"values":[0,0.02,0.04,0.06,0.08,0.1],"format":".2f","titlePadding":0,"titleFontSize":18}},
     "stroke":{"condition":{"test":"datum.s=='C57BL/6J'","value":"#0000ff"},"value":"#ff0000"}}},
   {"data":{"name":"pts"},"transform":[{"filter":"datum.p=='DM'"}],"mark":{"type":"point","filled":true,"stroke":"black","strokeWidth":1.1,"size":55,"opacity":1},
    "encoding":{"x":{"field":"s","type":"nominal","title":null,"scale":{"domain":["C57BL/6J","BALB/cJ"],"paddingInner":0.23,"paddingOuter":0.072}},
     "xOffset":{"field":"k","type":"nominal","scale":{"domain":["S-5","S-4","S-3","S-2","S-1","S0","S1","S2","S3","S4","S5","B-5","B-4","B-3","B-2","B-1","B0","B1","B2","B3","B4","B5"],"paddingInner":0,"paddingOuter":0}},
     "y":{"field":"v","type":"quantitative","title":"Actinobacteria","scale":{"domain":[0,0.1]},"axis":{"values":[0,0.02,0.04,0.06,0.08,0.1],"format":".2f","titlePadding":0,"titleFontSize":18}},
     "shape":{"field":"t","type":"nominal","scale":{"domain":["Sham","BLG"],"range":["triangle-up","diamond"]},"legend":null},
     "fill":{"field":"t","type":"nominal","scale":{"domain":["Sham","BLG"],"range":["white","black"]},"legend":null}}},
   {"data":{"name":"bars"},"transform":[{"filter":"datum.p=='DM'"}],"mark":{"type":"rule","color":"black","strokeWidth":1.6},
    "encoding":{"x":{"field":"s","type":"nominal","title":null,"scale":{"domain":["C57BL/6J","BALB/cJ"],"paddingInner":0.23,"paddingOuter":0.072}},
     "xOffset":{"field":"t","type":"nominal","scale":{"domain":["Sham","BLG"],"paddingInner":0.433,"paddingOuter":0.217}},
     "y":{"field":"lo","type":"quantitative","title":"Actinobacteria","scale":{"domain":[0,0.1]},"axis":{"values":[0,0.02,0.04,0.06,0.08,0.1],"format":".2f","titlePadding":0,"titleFontSize":18}},"y2":{"field":"hi"}}},
   {"data":{"name":"bars"},"transform":[{"filter":"datum.p=='DM'"},{"fold":["lo","hi"],"as":["key","val"]}],"mark":{"type":"tick","color":"black","thickness":1.6,"size":13,"orient":"horizontal"},
    "encoding":{"x":{"field":"s","type":"nominal","title":null,"scale":{"domain":["C57BL/6J","BALB/cJ"],"paddingInner":0.23,"paddingOuter":0.072}},
     "xOffset":{"field":"t","type":"nominal","scale":{"domain":["Sham","BLG"],"paddingInner":0.433,"paddingOuter":0.217}},
     "y":{"field":"val","type":"quantitative","title":"Actinobacteria","scale":{"domain":[0,0.1]},"axis":{"values":[0,0.02,0.04,0.06,0.08,0.1],"format":".2f","titlePadding":0,"titleFontSize":18}}}}
  ]},
 {"width":218,"height":180,
  "resolve":{"scale":{"xOffset":"independent"}},
  "layer":[
   {"data":{"name":"bars"},"transform":[{"filter":"datum.p=='DF'"}],"mark":{"type":"bar","strokeWidth":2.5},
    "encoding":{"x":{"field":"s","type":"nominal","title":null,"scale":{"domain":["C57BL/6J","BALB/cJ"],"paddingInner":0.23,"paddingOuter":0.072}},
     "xOffset":{"field":"t","type":"nominal","scale":{"domain":["Sham","BLG"],"paddingInner":0.433,"paddingOuter":0.217}},
     "y":{"field":"m","type":"quantitative","title":"Actinobacteria","scale":{"domain":[0,0.1]},"axis":{"values":[0,0.02,0.04,0.06,0.08,0.1],"format":".2f","titlePadding":0,"titleFontSize":18}},
     "fill":{"condition":[{"test":"datum.t=='Sham'","value":"white"},{"test":"datum.s=='C57BL/6J'","value":"#228b22"}],"value":"#ff8000"},
     "stroke":{"condition":{"test":"datum.s=='C57BL/6J'","value":"#228b22"},"value":"#ff8000"}}},
   {"data":{"name":"bars"},"transform":[{"filter":"datum.p=='DF' && datum.t=='BLG'"}],"mark":{"type":"bar","strokeWidth":2.5,"fill":{"expr":"gS"}},
    "encoding":{"x":{"field":"s","type":"nominal","title":null,"scale":{"domain":["C57BL/6J","BALB/cJ"],"paddingInner":0.23,"paddingOuter":0.072}},
     "xOffset":{"field":"t","type":"nominal","scale":{"domain":["Sham","BLG"],"paddingInner":0.433,"paddingOuter":0.217}},
     "y":{"field":"m","type":"quantitative","title":"Actinobacteria","scale":{"domain":[0,0.1]},"axis":{"values":[0,0.02,0.04,0.06,0.08,0.1],"format":".2f","titlePadding":0,"titleFontSize":18}},
     "stroke":{"condition":{"test":"datum.s=='C57BL/6J'","value":"#228b22"},"value":"#ff8000"}}},
   {"data":{"name":"pts"},"transform":[{"filter":"datum.p=='DF'"}],"mark":{"type":"point","filled":true,"stroke":"black","strokeWidth":1.1,"size":55,"opacity":1},
    "encoding":{"x":{"field":"s","type":"nominal","title":null,"scale":{"domain":["C57BL/6J","BALB/cJ"],"paddingInner":0.23,"paddingOuter":0.072}},
     "xOffset":{"field":"k","type":"nominal","scale":{"domain":["S-5","S-4","S-3","S-2","S-1","S0","S1","S2","S3","S4","S5","B-5","B-4","B-3","B-2","B-1","B0","B1","B2","B3","B4","B5"],"paddingInner":0,"paddingOuter":0}},
     "y":{"field":"v","type":"quantitative","title":"Actinobacteria","scale":{"domain":[0,0.1]},"axis":{"values":[0,0.02,0.04,0.06,0.08,0.1],"format":".2f","titlePadding":0,"titleFontSize":18}},
     "shape":{"field":"t","type":"nominal","scale":{"domain":["Sham","BLG"],"range":["triangle-up","diamond"]},"legend":{"title":null,"orient":"none","legendX":241,"legendY":64,"symbolSize":150,"labelFontSize":16,"labelOffset":6,"rowPadding":3,"padding":0,"encode":{"symbols":{"update":{"stroke":{"value":"black"},"strokeWidth":{"value":1.2}}}}}},
     "fill":{"field":"t","type":"nominal","scale":{"domain":["Sham","BLG"],"range":["white","black"]},"legend":{"title":null,"orient":"none","legendX":241,"legendY":64,"symbolSize":150,"labelFontSize":16,"labelOffset":6,"rowPadding":3,"padding":0,"encode":{"symbols":{"update":{"stroke":{"value":"black"},"strokeWidth":{"value":1.2}}}}}}}},
   {"data":{"name":"bars"},"transform":[{"filter":"datum.p=='DF'"}],"mark":{"type":"rule","color":"black","strokeWidth":1.6},
    "encoding":{"x":{"field":"s","type":"nominal","title":null,"scale":{"domain":["C57BL/6J","BALB/cJ"],"paddingInner":0.23,"paddingOuter":0.072}},
     "xOffset":{"field":"t","type":"nominal","scale":{"domain":["Sham","BLG"],"paddingInner":0.433,"paddingOuter":0.217}},
     "y":{"field":"lo","type":"quantitative","title":"Actinobacteria","scale":{"domain":[0,0.1]},"axis":{"values":[0,0.02,0.04,0.06,0.08,0.1],"format":".2f","titlePadding":0,"titleFontSize":18}},"y2":{"field":"hi"}}},
   {"data":{"name":"bars"},"transform":[{"filter":"datum.p=='DF'"},{"fold":["lo","hi"],"as":["key","val"]}],"mark":{"type":"tick","color":"black","thickness":1.6,"size":13,"orient":"horizontal"},
    "encoding":{"x":{"field":"s","type":"nominal","title":null,"scale":{"domain":["C57BL/6J","BALB/cJ"],"paddingInner":0.23,"paddingOuter":0.072}},
     "xOffset":{"field":"t","type":"nominal","scale":{"domain":["Sham","BLG"],"paddingInner":0.433,"paddingOuter":0.217}},
     "y":{"field":"val","type":"quantitative","title":"Actinobacteria","scale":{"domain":[0,0.1]},"axis":{"values":[0,0.02,0.04,0.06,0.08,0.1],"format":".2f","titlePadding":0,"titleFontSize":18}}}},
   {"data":{"name":"sig"},"transform":[{"filter":"datum.p=='DF'"}],"mark":{"type":"rule","color":"black","strokeWidth":2,"xOffset":{"expr":"datum.ty=='BB' ? 22 : -22"},"x2Offset":{"expr":"datum.ty=='SS' ? -22 : 22"}},
    "encoding":{"x":{"field":"s1","type":"nominal","title":null,"bandPosition":0.5,"scale":{"domain":["C57BL/6J","BALB/cJ"],"paddingInner":0.23,"paddingOuter":0.072}},"x2":{"field":"s2","bandPosition":0.5},
     "y":{"field":"y","type":"quantitative","title":"Actinobacteria","scale":{"domain":[0,0.1]},"axis":{"values":[0,0.02,0.04,0.06,0.08,0.1],"format":".2f","titlePadding":0,"titleFontSize":18}}}},
   {"data":{"name":"sig"},"transform":[{"filter":"datum.p=='DF'"}],"mark":{"type":"text","fontSize":12,"color":"black","baseline":"alphabetic","dy":-4,"dx":{"expr":"datum.ty=='SS' ? 35 : datum.ty=='BB' ? 79 : 0"}},
    "encoding":{"x":{"field":"s1","type":"nominal","title":null,"bandPosition":0.5,"scale":{"domain":["C57BL/6J","BALB/cJ"],"paddingInner":0.23,"paddingOuter":0.072}},
     "y":{"field":"y","type":"quantitative","title":"Actinobacteria","scale":{"domain":[0,0.1]},"axis":{"values":[0,0.02,0.04,0.06,0.08,0.1],"format":".2f","titlePadding":0,"titleFontSize":18}},"text":{"field":"lab"}}}
  ]}
 ]},
{"title":{"text":"E","anchor":"start","fontSize":30,"offset":11,"dx":-17},
 "spacing":42,
 "resolve":{"legend":{"shape":"independent","fill":"independent"},"scale":{"shape":"independent","fill":"independent"}},
 "hconcat":[
 {"width":224,"height":180,
  "resolve":{"scale":{"xOffset":"independent"}},
  "layer":[
   {"data":{"name":"bars"},"transform":[{"filter":"datum.p=='EM'"}],"mark":{"type":"bar","strokeWidth":2.5},
    "encoding":{"x":{"field":"s","type":"nominal","title":null,"scale":{"domain":["C57BL/6J","BALB/cJ"],"paddingInner":0.23,"paddingOuter":0.072}},
     "xOffset":{"field":"t","type":"nominal","scale":{"domain":["Sham","BLG"],"paddingInner":0.433,"paddingOuter":0.217}},
     "y":{"field":"m","type":"quantitative","title":"Verrucomicrobia","scale":{"domain":[0,0.08]},"axis":{"values":[0,0.02,0.04,0.06,0.08],"format":".2f","titlePadding":0,"titleFontSize":18.5}},
     "fill":{"condition":[{"test":"datum.t=='Sham'","value":"white"},{"test":"datum.s=='C57BL/6J'","value":"#0000ff"}],"value":"#ff0000"},
     "stroke":{"condition":{"test":"datum.s=='C57BL/6J'","value":"#0000ff"},"value":"#ff0000"}}},
   {"data":{"name":"bars"},"transform":[{"filter":"datum.p=='EM' && datum.t=='BLG'"}],"mark":{"type":"bar","strokeWidth":2.5,"fill":{"expr":"gS"}},
    "encoding":{"x":{"field":"s","type":"nominal","title":null,"scale":{"domain":["C57BL/6J","BALB/cJ"],"paddingInner":0.23,"paddingOuter":0.072}},
     "xOffset":{"field":"t","type":"nominal","scale":{"domain":["Sham","BLG"],"paddingInner":0.433,"paddingOuter":0.217}},
     "y":{"field":"m","type":"quantitative","title":"Verrucomicrobia","scale":{"domain":[0,0.08]},"axis":{"values":[0,0.02,0.04,0.06,0.08],"format":".2f","titlePadding":0,"titleFontSize":18.5}},
     "stroke":{"condition":{"test":"datum.s=='C57BL/6J'","value":"#0000ff"},"value":"#ff0000"}}},
   {"data":{"name":"pts"},"transform":[{"filter":"datum.p=='EM'"}],"mark":{"type":"point","filled":true,"stroke":"black","strokeWidth":1.1,"size":55,"opacity":1},
    "encoding":{"x":{"field":"s","type":"nominal","title":null,"scale":{"domain":["C57BL/6J","BALB/cJ"],"paddingInner":0.23,"paddingOuter":0.072}},
     "xOffset":{"field":"k","type":"nominal","scale":{"domain":["S-5","S-4","S-3","S-2","S-1","S0","S1","S2","S3","S4","S5","B-5","B-4","B-3","B-2","B-1","B0","B1","B2","B3","B4","B5"],"paddingInner":0,"paddingOuter":0}},
     "y":{"field":"v","type":"quantitative","title":"Verrucomicrobia","scale":{"domain":[0,0.08]},"axis":{"values":[0,0.02,0.04,0.06,0.08],"format":".2f","titlePadding":0,"titleFontSize":18.5}},
     "shape":{"field":"t","type":"nominal","scale":{"domain":["Sham","BLG"],"range":["triangle-up","diamond"]},"legend":null},
     "fill":{"field":"t","type":"nominal","scale":{"domain":["Sham","BLG"],"range":["white","black"]},"legend":null}}},
   {"data":{"name":"bars"},"transform":[{"filter":"datum.p=='EM'"}],"mark":{"type":"rule","color":"black","strokeWidth":1.6},
    "encoding":{"x":{"field":"s","type":"nominal","title":null,"scale":{"domain":["C57BL/6J","BALB/cJ"],"paddingInner":0.23,"paddingOuter":0.072}},
     "xOffset":{"field":"t","type":"nominal","scale":{"domain":["Sham","BLG"],"paddingInner":0.433,"paddingOuter":0.217}},
     "y":{"field":"lo","type":"quantitative","title":"Verrucomicrobia","scale":{"domain":[0,0.08]},"axis":{"values":[0,0.02,0.04,0.06,0.08],"format":".2f","titlePadding":0,"titleFontSize":18.5}},"y2":{"field":"hi"}}},
   {"data":{"name":"bars"},"transform":[{"filter":"datum.p=='EM'"},{"fold":["lo","hi"],"as":["key","val"]}],"mark":{"type":"tick","color":"black","thickness":1.6,"size":13,"orient":"horizontal"},
    "encoding":{"x":{"field":"s","type":"nominal","title":null,"scale":{"domain":["C57BL/6J","BALB/cJ"],"paddingInner":0.23,"paddingOuter":0.072}},
     "xOffset":{"field":"t","type":"nominal","scale":{"domain":["Sham","BLG"],"paddingInner":0.433,"paddingOuter":0.217}},
     "y":{"field":"val","type":"quantitative","title":"Verrucomicrobia","scale":{"domain":[0,0.08]},"axis":{"values":[0,0.02,0.04,0.06,0.08],"format":".2f","titlePadding":0,"titleFontSize":18.5}}}},
   {"data":{"name":"sig"},"transform":[{"filter":"datum.p=='EM'"}],"mark":{"type":"rule","color":"black","strokeWidth":2,"xOffset":{"expr":"datum.ty=='BB' ? 22 : -22"},"x2Offset":{"expr":"datum.ty=='SS' ? -22 : 22"}},
    "encoding":{"x":{"field":"s1","type":"nominal","title":null,"bandPosition":0.5,"scale":{"domain":["C57BL/6J","BALB/cJ"],"paddingInner":0.23,"paddingOuter":0.072}},"x2":{"field":"s2","bandPosition":0.5},
     "y":{"field":"y","type":"quantitative","title":"Verrucomicrobia","scale":{"domain":[0,0.08]},"axis":{"values":[0,0.02,0.04,0.06,0.08],"format":".2f","titlePadding":0,"titleFontSize":18.5}}}},
   {"data":{"name":"sig"},"transform":[{"filter":"datum.p=='EM'"}],"mark":{"type":"text","fontSize":12,"color":"black","baseline":"alphabetic","dy":-4,"dx":{"expr":"datum.ty=='SS' ? 36 : datum.ty=='BB' ? 80 : 0"}},
    "encoding":{"x":{"field":"s1","type":"nominal","title":null,"bandPosition":0.5,"scale":{"domain":["C57BL/6J","BALB/cJ"],"paddingInner":0.23,"paddingOuter":0.072}},
     "y":{"field":"y","type":"quantitative","title":"Verrucomicrobia","scale":{"domain":[0,0.08]},"axis":{"values":[0,0.02,0.04,0.06,0.08],"format":".2f","titlePadding":0,"titleFontSize":18.5}},"text":{"field":"lab"}}}
  ]},
 {"width":218,"height":180,
  "resolve":{"scale":{"xOffset":"independent"}},
  "layer":[
   {"data":{"name":"bars"},"transform":[{"filter":"datum.p=='EF'"}],"mark":{"type":"bar","strokeWidth":2.5},
    "encoding":{"x":{"field":"s","type":"nominal","title":null,"scale":{"domain":["C57BL/6J","BALB/cJ"],"paddingInner":0.23,"paddingOuter":0.072}},
     "xOffset":{"field":"t","type":"nominal","scale":{"domain":["Sham","BLG"],"paddingInner":0.433,"paddingOuter":0.217}},
     "y":{"field":"m","type":"quantitative","title":"Verrucomicrobia","scale":{"domain":[0,0.08]},"axis":{"values":[0,0.02,0.04,0.06,0.08],"format":".2f","titlePadding":0,"titleFontSize":18.5}},
     "fill":{"condition":[{"test":"datum.t=='Sham'","value":"white"},{"test":"datum.s=='C57BL/6J'","value":"#228b22"}],"value":"#ff8000"},
     "stroke":{"condition":{"test":"datum.s=='C57BL/6J'","value":"#228b22"},"value":"#ff8000"}}},
   {"data":{"name":"bars"},"transform":[{"filter":"datum.p=='EF' && datum.t=='BLG'"}],"mark":{"type":"bar","strokeWidth":2.5,"fill":{"expr":"gS"}},
    "encoding":{"x":{"field":"s","type":"nominal","title":null,"scale":{"domain":["C57BL/6J","BALB/cJ"],"paddingInner":0.23,"paddingOuter":0.072}},
     "xOffset":{"field":"t","type":"nominal","scale":{"domain":["Sham","BLG"],"paddingInner":0.433,"paddingOuter":0.217}},
     "y":{"field":"m","type":"quantitative","title":"Verrucomicrobia","scale":{"domain":[0,0.08]},"axis":{"values":[0,0.02,0.04,0.06,0.08],"format":".2f","titlePadding":0,"titleFontSize":18.5}},
     "stroke":{"condition":{"test":"datum.s=='C57BL/6J'","value":"#228b22"},"value":"#ff8000"}}},
   {"data":{"name":"pts"},"transform":[{"filter":"datum.p=='EF'"}],"mark":{"type":"point","filled":true,"stroke":"black","strokeWidth":1.1,"size":55,"opacity":1},
    "encoding":{"x":{"field":"s","type":"nominal","title":null,"scale":{"domain":["C57BL/6J","BALB/cJ"],"paddingInner":0.23,"paddingOuter":0.072}},
     "xOffset":{"field":"k","type":"nominal","scale":{"domain":["S-5","S-4","S-3","S-2","S-1","S0","S1","S2","S3","S4","S5","B-5","B-4","B-3","B-2","B-1","B0","B1","B2","B3","B4","B5"],"paddingInner":0,"paddingOuter":0}},
     "y":{"field":"v","type":"quantitative","title":"Verrucomicrobia","scale":{"domain":[0,0.08]},"axis":{"values":[0,0.02,0.04,0.06,0.08],"format":".2f","titlePadding":0,"titleFontSize":18.5}},
     "shape":{"field":"t","type":"nominal","scale":{"domain":["Sham","BLG"],"range":["triangle-up","diamond"]},"legend":{"title":null,"orient":"none","legendX":241,"legendY":69,"symbolSize":150,"labelFontSize":16,"labelOffset":6,"rowPadding":3,"padding":0,"encode":{"symbols":{"update":{"stroke":{"value":"black"},"strokeWidth":{"value":1.2}}}}}},
     "fill":{"field":"t","type":"nominal","scale":{"domain":["Sham","BLG"],"range":["white","black"]},"legend":{"title":null,"orient":"none","legendX":241,"legendY":69,"symbolSize":150,"labelFontSize":16,"labelOffset":6,"rowPadding":3,"padding":0,"encode":{"symbols":{"update":{"stroke":{"value":"black"},"strokeWidth":{"value":1.2}}}}}}}},
   {"data":{"name":"bars"},"transform":[{"filter":"datum.p=='EF'"}],"mark":{"type":"rule","color":"black","strokeWidth":1.6},
    "encoding":{"x":{"field":"s","type":"nominal","title":null,"scale":{"domain":["C57BL/6J","BALB/cJ"],"paddingInner":0.23,"paddingOuter":0.072}},
     "xOffset":{"field":"t","type":"nominal","scale":{"domain":["Sham","BLG"],"paddingInner":0.433,"paddingOuter":0.217}},
     "y":{"field":"lo","type":"quantitative","title":"Verrucomicrobia","scale":{"domain":[0,0.08]},"axis":{"values":[0,0.02,0.04,0.06,0.08],"format":".2f","titlePadding":0,"titleFontSize":18.5}},"y2":{"field":"hi"}}},
   {"data":{"name":"bars"},"transform":[{"filter":"datum.p=='EF'"},{"fold":["lo","hi"],"as":["key","val"]}],"mark":{"type":"tick","color":"black","thickness":1.6,"size":13,"orient":"horizontal"},
    "encoding":{"x":{"field":"s","type":"nominal","title":null,"scale":{"domain":["C57BL/6J","BALB/cJ"],"paddingInner":0.23,"paddingOuter":0.072}},
     "xOffset":{"field":"t","type":"nominal","scale":{"domain":["Sham","BLG"],"paddingInner":0.433,"paddingOuter":0.217}},
     "y":{"field":"val","type":"quantitative","title":"Verrucomicrobia","scale":{"domain":[0,0.08]},"axis":{"values":[0,0.02,0.04,0.06,0.08],"format":".2f","titlePadding":0,"titleFontSize":18.5}}}},
   {"data":{"name":"sig"},"transform":[{"filter":"datum.p=='EF'"}],"mark":{"type":"rule","color":"black","strokeWidth":2,"xOffset":{"expr":"datum.ty=='BB' ? 22 : -22"},"x2Offset":{"expr":"datum.ty=='SS' ? -22 : 22"}},
    "encoding":{"x":{"field":"s1","type":"nominal","title":null,"bandPosition":0.5,"scale":{"domain":["C57BL/6J","BALB/cJ"],"paddingInner":0.23,"paddingOuter":0.072}},"x2":{"field":"s2","bandPosition":0.5},
     "y":{"field":"y","type":"quantitative","title":"Verrucomicrobia","scale":{"domain":[0,0.08]},"axis":{"values":[0,0.02,0.04,0.06,0.08],"format":".2f","titlePadding":0,"titleFontSize":18.5}}}},
   {"data":{"name":"sig"},"transform":[{"filter":"datum.p=='EF'"}],"mark":{"type":"text","fontSize":12,"color":"black","baseline":"alphabetic","dy":-4,"dx":{"expr":"datum.ty=='SS' ? 35 : datum.ty=='BB' ? 79 : 0"}},
    "encoding":{"x":{"field":"s1","type":"nominal","title":null,"bandPosition":0.5,"scale":{"domain":["C57BL/6J","BALB/cJ"],"paddingInner":0.23,"paddingOuter":0.072}},
     "y":{"field":"y","type":"quantitative","title":"Verrucomicrobia","scale":{"domain":[0,0.08]},"axis":{"values":[0,0.02,0.04,0.06,0.08],"format":".2f","titlePadding":0,"titleFontSize":18.5}},"text":{"field":"lab"}}}
  ]}
 ]}
]
}
